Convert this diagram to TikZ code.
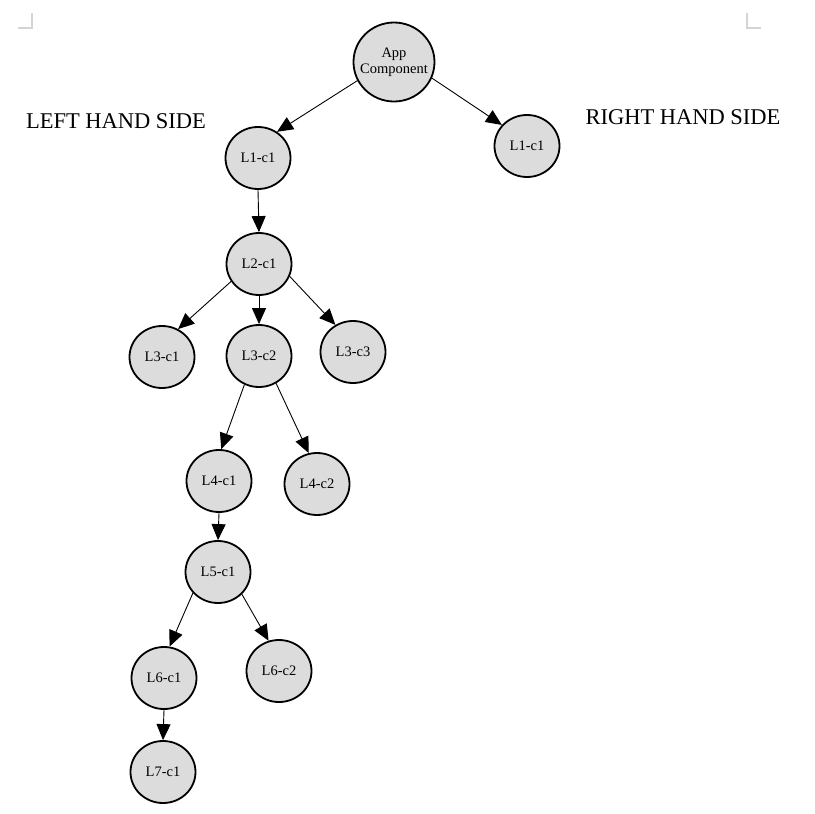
\documentclass[tikz,border=0pt]{standalone}
\usepackage{fontspec}
\setmainfont{Liberation Serif}
\usepackage{tikz}
\usetikzlibrary{shapes.geometric,arrows.meta}
\definecolor{nodegray}{HTML}{DCDCDC}
\definecolor{markgray}{HTML}{D4D4D4}

\begin{document}
\begin{tikzpicture}[x=1pt,y=-1pt,
  comp/.style={ellipse, draw=black, line width=1.8pt, fill=nodegray,
    minimum width=65pt, minimum height=62pt, inner sep=0pt,
    font=\fontsize{14.5}{16}\selectfont, align=center},
  edge/.style={line width=0.9pt, -{Triangle[length=16pt,width=14pt]}},
  side/.style={anchor=base, font=\fontsize{22.5}{26}\selectfont}]
\useasboundingbox (0,0) rectangle (815,814);
% page corner marks
\draw[markgray, line width=1.2pt] (18,28) -- (32,28) -- (32,13);
\draw[markgray, line width=1.2pt] (747,13) -- (747,28) -- (761,28);

\node[comp, minimum width=81pt, minimum height=79pt, inner xsep=-7pt] (app) at (394,62) {App\\Component};
\node[comp] (lone) at (258,158) {L1-c1};
\node[comp] (rone) at (527,146) {L1-c1};
\node[comp] (ltwo) at (259,264) {L2-c1};
\node[comp] (lthreea) at (162,357) {L3-c1};
\node[comp] (lthreeb) at (259,356) {L3-c2};
\node[comp] (lthreec) at (353,352) {L3-c3};
\node[comp] (lfoura) at (219,481) {L4-c1};
\node[comp] (lfourb) at (317,484) {L4-c2};
\node[comp] (lfive) at (218,572) {L5-c1};
\node[comp] (lsixa) at (164,678) {L6-c1};
\node[comp] (lsixb) at (279,671) {L6-c2};
\node[comp] (lseven) at (163,772) {L7-c1};

\node[side] (lhs) at (116,128) {LEFT HAND SIDE};
\node[side] (rhs) at (683,124) {RIGHT HAND SIDE};

% parent/angle/child/angle
\foreach \p/\pa/\c/\ca in {app/207/lone/54, app/337/rone/140,
  lone/270/ltwo/90, ltwo/212/lthreea/60, ltwo/270/lthreeb/90,
  ltwo/338/lthreec/123, lthreeb/243/lfoura/86, lthreeb/302/lfourb/105,
  lfoura/270/lfive/90, lfive/220/lsixa/80, lfive/317/lsixb/109,
  lsixa/270/lseven/90}
{
\draw[edge] (\p.\pa) -- (\c.\ca);
}
\end{tikzpicture}
\end{document}
